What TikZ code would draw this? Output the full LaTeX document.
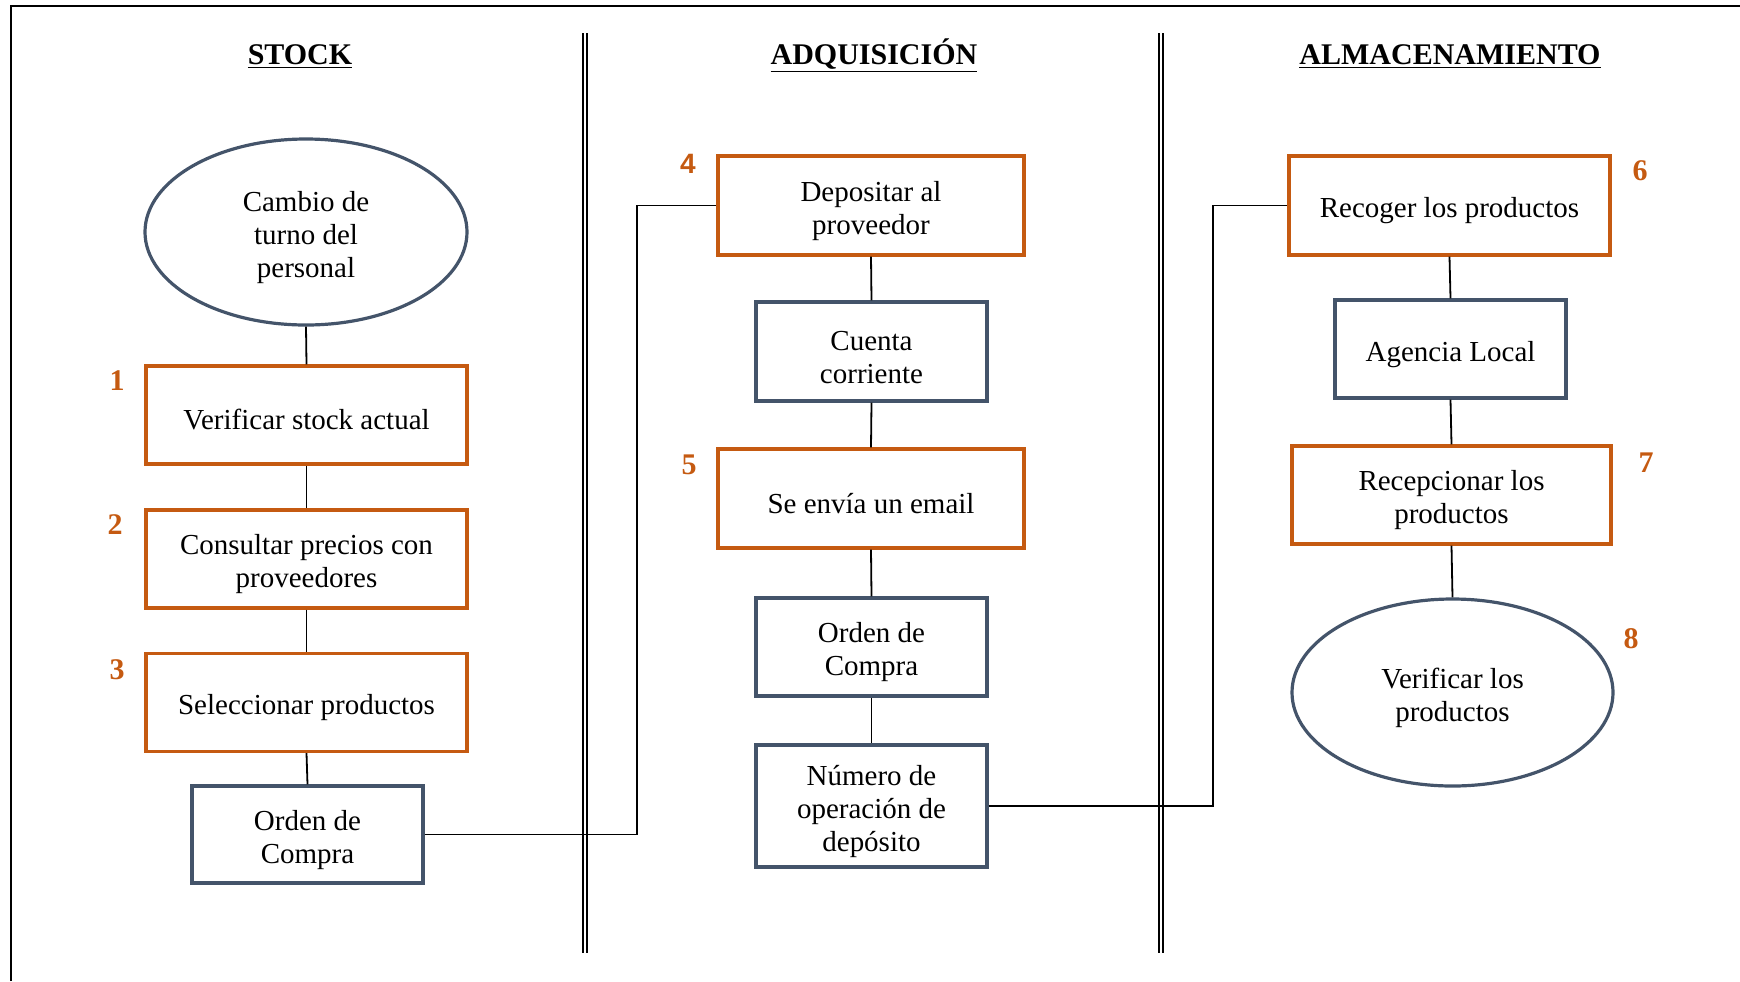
\documentclass[tikz,border=0pt]{standalone}
\usepackage{fontspec}
\setmainfont{Liberation Serif}
\newfontfamily\arialf{Liberation Sans}
\usetikzlibrary{shapes.geometric}
\definecolor{orng}{HTML}{C55A11}
\definecolor{slate}{HTML}{44546A}
\newcommand\tup{\rule{0pt}{15.2pt}}
\begin{document}
\begin{tikzpicture}[x=0.5pt,y=-0.5pt,
  txt/.style={font=\fontsize{14.5pt}{16.5pt}\selectfont, align=center, inner sep=0pt},
  obox/.style={txt, draw=orng, line width=1.6pt, rectangle, minimum height=49pt},
  bbox/.style={txt, draw=slate, line width=1.6pt, rectangle, minimum width=115.5pt, minimum height=49pt},
  oval/.style={txt, draw=slate, line width=1.6pt, ellipse, minimum width=161pt, minimum height=93pt},
  conn/.style={draw=black, line width=0.9pt},
  num/.style={text=orng, font=\fontsize{15pt}{17pt}\selectfont\bfseries, inner sep=0pt},
  head/.style={font=\fontsize{15pt}{17pt}\selectfont\bfseries, inner sep=0pt, anchor=base},
  divider/.style={draw=black, line width=0.6pt, double, double distance=1.4pt}
]
\useasboundingbox (0,0) rectangle (1740,981);
% frame
\draw[line width=1.1pt] (11,981) -- (11,6) -- (1740,6);
% dividers
\draw[divider] (585,33) -- (585,953);
\draw[divider] (1161,33) -- (1161,953);
% headers
\node[head] (h1) at (300,64) {\underline{STOCK}};
\node[head] (h2) at (874,64) {\underline{ADQUISICIÓN}};
\node[head] (h3) at (1450,64) {\underline{ALMACENAMIENTO}};

% STOCK column
\node[oval] (e1) at (306,232) {\tup Cambio de\\turno del\\personal};
\node[obox, minimum width=160.5pt] (b1) at (306.5,415) {\tup Verificar stock actual};
\node[obox, minimum width=160.5pt] (b2) at (306.5,559) {\tup Consultar precios con\\proveedores};
\node[obox, minimum width=160.5pt] (b3) at (306.5,702.5) {\tup Seleccionar productos};
\node[bbox, minimum height=48.5pt] (o1) at (307.5,834.5) {\tup Orden de\\Compra};
\node[num] (n1) at (117,381) {1};
\node[num] (n2) at (115,525) {2};
\node[num] (n3) at (117,670) {3};
\draw[conn] (e1.south) -- (b1.north);
\draw[conn] (b1.south) -- (b2.north);
\draw[conn] (b2.south) -- (b3.north);
\draw[conn] (b3.south) -- (o1.north);

% ADQUISICION column
\node[obox, minimum width=153pt, minimum height=49.5pt] (b4) at (871,205.5) {\tup Depositar al\\proveedor};
\node[bbox, minimum height=49.5pt] (cc) at (871.5,351.5) {\tup Cuenta\\corriente};
\node[obox, minimum width=153pt, minimum height=49.5pt] (b5) at (871,498.5) {\tup Se envía un email};
\node[bbox] (o2) at (871.5,647) {\tup Orden de\\Compra};
\node[bbox, minimum height=61pt] (nd) at (871.5,806) {\tup Número de\\operación de\\depósito};
\node[num, font=\fontsize{14pt}{16pt}\selectfont\bfseries\arialf] (n4) at (688,164) {4};
\node[num] (n5) at (689,465) {5};
\draw[conn] (b4.south) -- (cc.north);
\draw[conn] (cc.south) -- (b5.north);
\draw[conn] (b5.south) -- (o2.north);
\draw[conn] (o2.south) -- (nd.north);

% ALMACENAMIENTO column
\node[obox, minimum width=160.5pt, minimum height=49.5pt] (b6) at (1449.5,205.5) {\tup Recoger los productos};
\node[bbox] (al) at (1450.5,349) {\tup Agencia Local};
\node[obox, minimum width=159.5pt] (b7) at (1451.5,495) {\tup Recepcionar los\\productos};
\node[oval, minimum width=160.5pt, minimum height=93.5pt] (e8) at (1452.5,692.5) {\tup Verificar los\\productos};
\node[num] (n6) at (1640,171) {6};
\node[num] (n7) at (1646,463) {7};
\node[num] (n8) at (1631,639) {8};
\draw[conn] (b6.south) -- (al.north);
\draw[conn] (al.south) -- (b7.north);
\draw[conn] (b7.south) -- (e8.north);

% cross-column connectors
\coordinate (c1) at (637,0);
\coordinate (c2) at (1213,0);
\draw[conn] (o1.east) -- (o1.east -| c1) -- (b4.west -| c1) -- (b4.west);
\draw[conn] (nd.east) -- (nd.east -| c2) -- (b6.west -| c2) -- (b6.west);
\end{tikzpicture}
\end{document}
